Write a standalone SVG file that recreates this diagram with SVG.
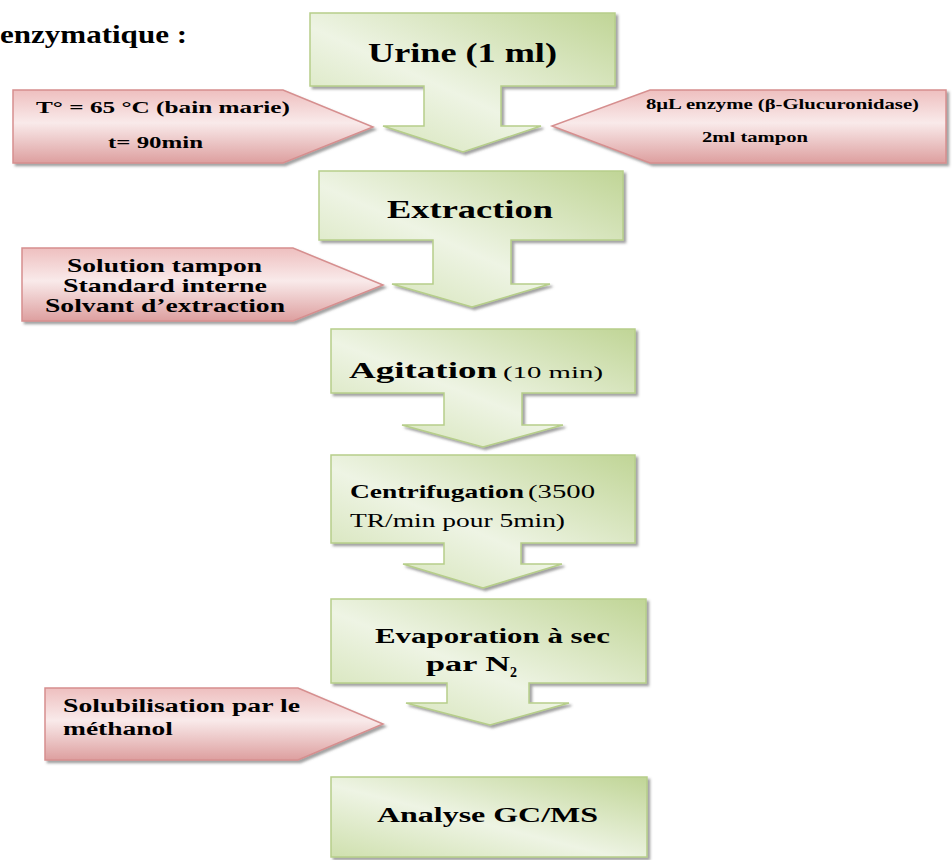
<svg xmlns="http://www.w3.org/2000/svg" width="952" height="860" viewBox="0 0 952 860">
  <defs>
    <linearGradient id="greenFill" x1="0" y1="1" x2="1" y2="0">
      <stop offset="0" stop-color="#cfe0ae"/>
      <stop offset="0.45" stop-color="#eef4e4"/>
      <stop offset="1" stop-color="#c0d596"/>
    </linearGradient>
    <linearGradient id="pinkFill" x1="0" y1="0" x2="0" y2="1">
      <stop offset="0" stop-color="#eebfbf"/>
      <stop offset="0.45" stop-color="#f9eaea"/>
      <stop offset="1" stop-color="#dd9f9f"/>
    </linearGradient>
    <filter id="shadow" x="-10%" y="-10%" width="130%" height="130%">
      <feDropShadow dx="2.5" dy="2.5" stdDeviation="1.2" flood-color="#555" flood-opacity="0.55"/>
    </filter>
    <clipPath id="evapClip">
      <rect x="331" y="599" width="315" height="84"/>
    </clipPath>
  </defs>
  <style>
    .step { fill: url(#greenFill); stroke: #b6ce8a; stroke-width: 1.5; filter: url(#shadow); }
    .input { fill: url(#pinkFill); stroke: #d68f8f; stroke-width: 1.5; filter: url(#shadow); }
    text { font-family: "Liberation Serif", "Times New Roman", serif; fill: #000; }
    .b { font-weight: bold; }
  </style>

  <rect width="952" height="860" fill="#ffffff"/>

  <!-- heading fragment -->
  <text class="b" x="0" y="43" font-size="26" textLength="187" lengthAdjust="spacingAndGlyphs">enzymatique :</text>

  <!-- added reagents / conditions (pink arrow callouts) -->
  <g id="conditions">
    <path class="input" d="M13,90 H283 L373,127 L283,163 H13 Z"/>
    <text class="b" x="36" y="113" font-size="17" textLength="254" lengthAdjust="spacingAndGlyphs">T° = 65 °C (bain marie)</text>
    <text class="b" x="108" y="148" font-size="17" textLength="95" lengthAdjust="spacingAndGlyphs">t= 90min</text>
  </g>
  <g id="enzyme">
    <path class="input" d="M946,90 H650 L552,126 L650,163 H946 Z"/>
    <text class="b" x="646" y="109" font-size="14" textLength="273" lengthAdjust="spacingAndGlyphs">8μL enzyme (β-Glucuronidase)</text>
    <text class="b" x="702" y="142" font-size="14" textLength="106" lengthAdjust="spacingAndGlyphs">2ml tampon</text>
  </g>
  <g id="reagents">
    <path class="input" d="M22,248 H293 L383,285 L293,321 H22 Z"/>
    <text class="b" x="67" y="272" font-size="19" textLength="195" lengthAdjust="spacingAndGlyphs">Solution tampon</text>
    <text class="b" x="63" y="292" font-size="19" textLength="204" lengthAdjust="spacingAndGlyphs">Standard interne</text>
    <text class="b" x="45" y="312" font-size="19" textLength="240" lengthAdjust="spacingAndGlyphs">Solvant d’extraction</text>
  </g>
  <g id="solubilisation">
    <path class="input" d="M45,688 H298 L383,724 L298,760 H45 Z"/>
    <text class="b" x="63" y="712" font-size="18" textLength="237" lengthAdjust="spacingAndGlyphs">Solubilisation par le</text>
    <text class="b" x="63" y="735" font-size="18" textLength="110" lengthAdjust="spacingAndGlyphs">méthanol</text>
  </g>

  <!-- process steps: box with a down-arrow outlet -->
  <g id="urine">
    <path class="step" d="M310,13 H615 V86 H501 V126 H541 L463,152 L383,126 H424 V86 H310 Z"/>
    <text class="b" x="368" y="62" font-size="27" textLength="189" lengthAdjust="spacingAndGlyphs">Urine (1 ml)</text>
  </g>
  <g id="extraction">
    <path class="step" d="M319,171 H623 V240 H511 V284 H550 L472,307 L392,284 H433 V240 H319 Z"/>
    <text class="b" x="387" y="218" font-size="25" textLength="166" lengthAdjust="spacingAndGlyphs">Extraction</text>
  </g>
  <g id="agitation">
    <path class="step" d="M331,329 H635 V393 H522 V425 H563 L483,447 L402,425 H444 V393 H331 Z"/>
    <text class="b" x="349" y="378" font-size="23" textLength="148" lengthAdjust="spacingAndGlyphs">Agitation</text>
    <text x="503" y="378" font-size="16" textLength="100" lengthAdjust="spacingAndGlyphs">(10 min)</text>
  </g>
  <g id="centrifugation">
    <path class="step" d="M331,455 H635 V543 H521 V564 H562 L483,588 L403,564 H444 V543 H331 Z"/>
    <text class="b" x="350" y="498" font-size="19" textLength="174" lengthAdjust="spacingAndGlyphs">Centrifugation</text>
    <text x="528" y="498" font-size="19" textLength="67" lengthAdjust="spacingAndGlyphs">(3500</text>
    <text x="350" y="527" font-size="19" textLength="215" lengthAdjust="spacingAndGlyphs">TR/min pour 5min)</text>
  </g>
  <g id="evaporation">
    <path class="step" d="M331,599 H646 V683 H529 V703 H569 L490,725 L406,703 H447 V683 H331 Z"/>
    <g clip-path="url(#evapClip)">
      <text class="b" x="375" y="643" font-size="20" textLength="235" lengthAdjust="spacingAndGlyphs">Evaporation à sec</text>
      <text class="b" x="426" y="671" font-size="20">
        <tspan textLength="84" lengthAdjust="spacingAndGlyphs">par N</tspan><tspan dy="6" font-size="14">2</tspan>
      </text>
    </g>
  </g>
  <g id="analyse">
    <rect class="step" x="331" y="777" width="316" height="80"/>
    <text class="b" x="377" y="822" font-size="20" textLength="221" lengthAdjust="spacingAndGlyphs">Analyse GC/MS</text>
  </g>

  <!-- connectors are drawn as the arrow outlets of each step shape -->
  <g id="connectors"/>
</svg>
